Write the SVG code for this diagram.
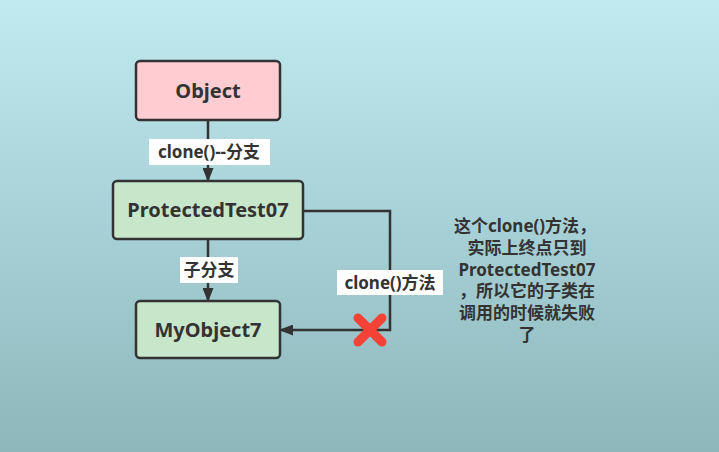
<svg xmlns="http://www.w3.org/2000/svg" width="719" height="452" viewBox="0 0 719 452">
<defs>
<linearGradient id="bg" x1="0" y1="0" x2="0" y2="1">
<stop offset="0" stop-color="#c0eaf0"/>
<stop offset="1" stop-color="#8eb7bc"/>
</linearGradient>
<marker id="arr" markerWidth="14" markerHeight="11" refX="13" refY="5.5" orient="auto" markerUnits="userSpaceOnUse">
<path d="M0,0 L14,5.5 L0,11 Z" fill="#333"/>
</marker>
<style>
.node{stroke:#333;stroke-width:2.5}
.t{font-family:"Noto Sans","Noto Sans CJK SC",sans-serif;font-weight:bold;fill:#333;text-anchor:middle}
.nt{font-size:20px}
.lt{font-size:17px}
.edge{fill:none;stroke:#333;stroke-width:2.5}
.lb{fill:#fff}
</style>
</defs>
<rect width="719" height="452" fill="url(#bg)"/>
<g id="connectors">
<line class="edge" x1="208" y1="120" x2="208" y2="181" marker-end="url(#arr)"/>
<line class="edge" x1="208" y1="239" x2="208" y2="301" marker-end="url(#arr)"/>
<path class="edge" d="M303,211 H390 V330 H280" marker-end="url(#arr)"/>
<rect class="lb" x="149" y="139" width="121" height="26"/>
<text class="t lt" x="209" y="158">clone()--分支</text>
<rect class="lb" x="180" y="257" width="58" height="26"/>
<text class="t lt" x="209" y="276">子分支</text>
<rect class="lb" x="337" y="270" width="106" height="25"/>
<text class="t lt" x="390" y="289">clone()方法</text>
</g>
<g id="node-object">
<rect class="node" x="136" y="61" width="144" height="59" rx="4" fill="#ffccd1"/>
<text class="t nt" x="208" y="98">Object</text>
</g>
<g id="node-protected">
<rect class="node" x="113" y="181" width="190" height="58" rx="4" fill="#c8e6c9"/>
<text class="t nt" x="208" y="217">ProtectedTest07</text>
</g>
<g id="node-myobject">
<rect class="node" x="136" y="301" width="144" height="57" rx="4" fill="#c8e6c9"/>
<text class="t nt" x="208" y="337">MyObject7</text>
</g>
<g id="cross" stroke="#f44336" stroke-width="9" stroke-linecap="round">
<line x1="358" y1="318" x2="382" y2="342"/>
<line x1="382" y1="318" x2="358" y2="342"/>
</g>
<g id="note" class="t lt">
<text x="525" y="232">这个clone()方法，</text>
<text x="527" y="254">实际上终点只到</text>
<text x="527" y="276">ProtectedTest07</text>
<text x="527" y="297">，所以它的子类在</text>
<text x="527" y="319">调用的时候就失败</text>
<text x="527" y="341">了</text>
</g>
</svg>
